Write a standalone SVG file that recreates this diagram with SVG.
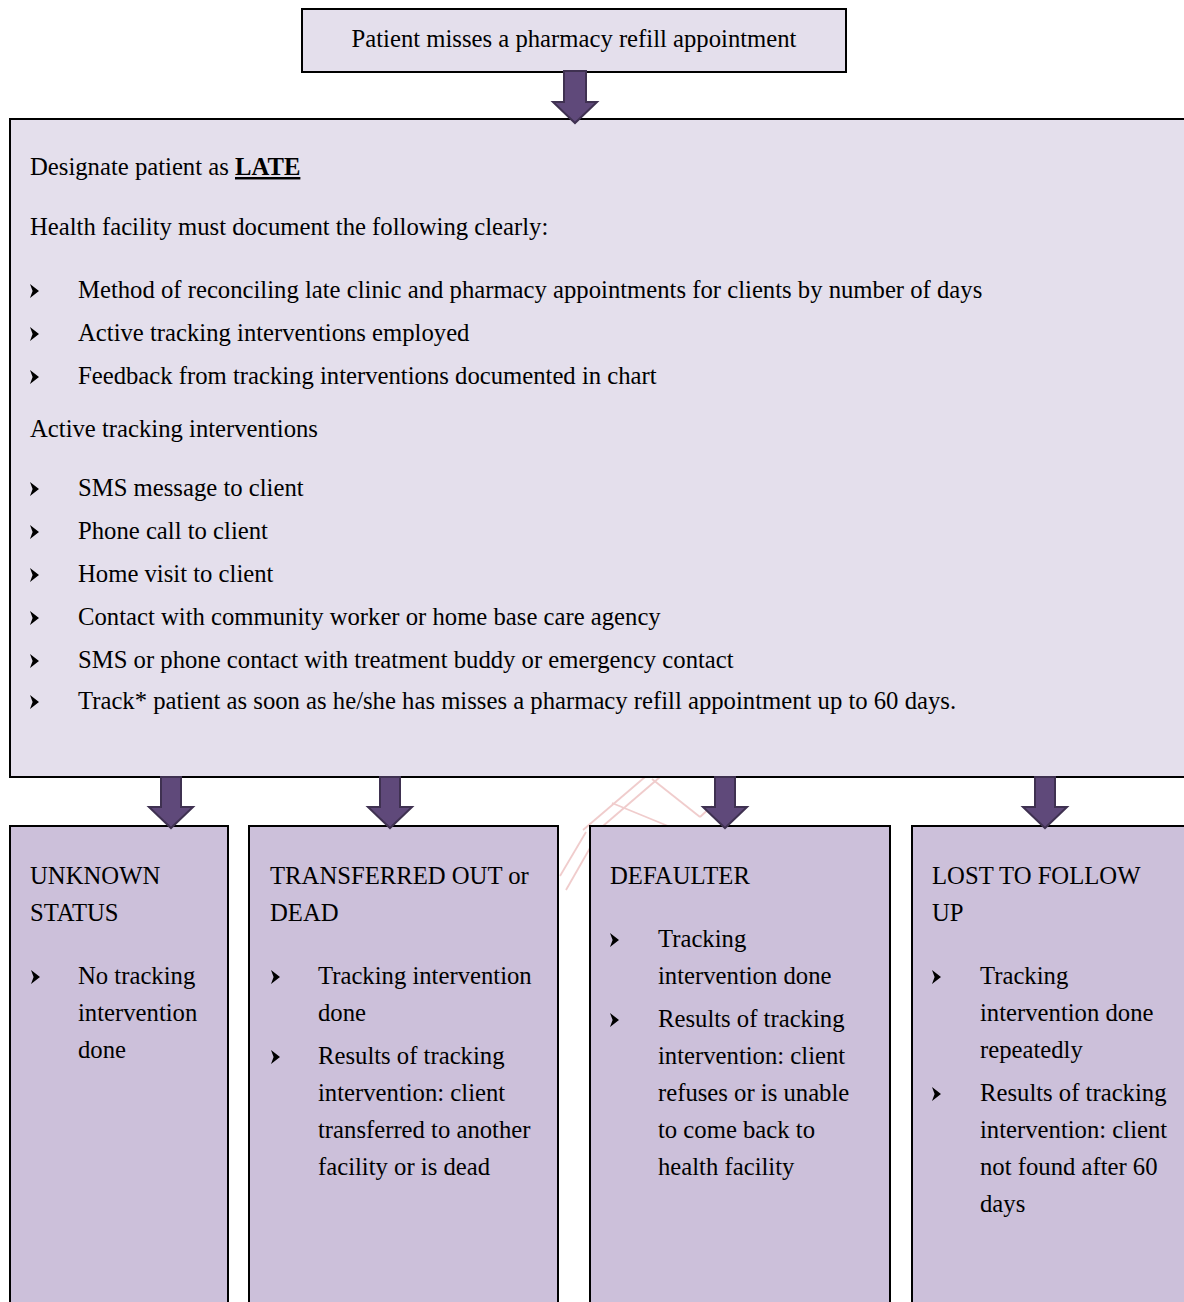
<svg xmlns="http://www.w3.org/2000/svg" xmlns:xlink="http://www.w3.org/1999/xlink" width="1184" height="1302" viewBox="0 0 1184 1302">
<style>
.t{font-family:"Liberation Serif","Times New Roman",serif;font-size:24.7px;fill:#000;}
.box{stroke:#000;stroke-width:2;}
.light{fill:#e4dfec;}
.mid{fill:#ccc0da;}
.arr{fill:#5f497a;stroke:#3f3151;stroke-width:2;stroke-linejoin:miter;}
.wm{fill:none;stroke:#f0cccc;stroke-width:1.8;}
</style>
<defs>
<path id="b" d="M0,0 L9,7 L0,14 L2.6,7 Z" fill="#000"/>
</defs>
<rect width="1184" height="1302" fill="#fff"/>
<g id="watermark">
<line class="wm" x1="645" y1="777" x2="583" y2="830"/>
<line class="wm" x1="660" y1="777" x2="596" y2="832"/>
<line class="wm" x1="586" y1="832" x2="560" y2="876"/>
<line class="wm" x1="590" y1="848" x2="566" y2="890"/>
<line class="wm" x1="612" y1="803" x2="668" y2="826"/>
<line class="wm" x1="652" y1="779" x2="700" y2="817"/>
<line class="wm" x1="700" y1="817" x2="712" y2="806"/>
</g>
<g id="start">
<rect class="box light" x="302" y="9" width="544" height="63"/>
<text class="t" x="574" y="47" text-anchor="middle">Patient misses a pharmacy refill appointment</text>
</g>
<g id="late">
<rect class="box light" x="10" y="119" width="1184" height="658"/>
<text class="t" x="30" y="175">Designate patient as <tspan font-weight="bold" text-decoration="underline">LATE</tspan></text>
<text class="t" x="30" y="235">Health facility must document the following clearly:</text>
<use xlink:href="#b" x="30" y="284"/>
<text class="t" x="78" y="298">Method of reconciling late clinic and pharmacy appointments for clients by number of days</text>
<use xlink:href="#b" x="30" y="327"/>
<text class="t" x="78" y="341">Active tracking interventions employed</text>
<use xlink:href="#b" x="30" y="370"/>
<text class="t" x="78" y="384">Feedback from tracking interventions documented in chart</text>
<text class="t" x="30" y="437">Active tracking interventions</text>
<use xlink:href="#b" x="30" y="482"/>
<text class="t" x="78" y="496">SMS message to client</text>
<use xlink:href="#b" x="30" y="525"/>
<text class="t" x="78" y="539">Phone call to client</text>
<use xlink:href="#b" x="30" y="568"/>
<text class="t" x="78" y="582">Home visit to client</text>
<use xlink:href="#b" x="30" y="611"/>
<text class="t" x="78" y="625">Contact with community worker or home base care agency</text>
<use xlink:href="#b" x="30" y="654"/>
<text class="t" x="78" y="668">SMS or phone contact with treatment buddy or emergency contact</text>
<use xlink:href="#b" x="30" y="695"/>
<text class="t" x="78" y="709">Track* patient as soon as he/she has misses a pharmacy refill appointment up to 60 days.</text>
</g>
<g id="unknown">
<rect class="box mid" x="10" y="826" width="218" height="490"/>
<text class="t" x="30" y="884">UNKNOWN</text>
<text class="t" x="30" y="921">STATUS</text>
<use xlink:href="#b" x="31" y="970"/>
<text class="t" x="78" y="984">No tracking</text>
<text class="t" x="78" y="1021">intervention</text>
<text class="t" x="78" y="1058">done</text>
</g>
<g id="transferred">
<rect class="box mid" x="249" y="826" width="309" height="490"/>
<text class="t" x="270" y="884">TRANSFERRED OUT or</text>
<text class="t" x="270" y="921">DEAD</text>
<use xlink:href="#b" x="271" y="970"/>
<text class="t" x="318" y="984">Tracking intervention</text>
<text class="t" x="318" y="1021">done</text>
<use xlink:href="#b" x="271" y="1050"/>
<text class="t" x="318" y="1064">Results of tracking</text>
<text class="t" x="318" y="1101">intervention: client</text>
<text class="t" x="318" y="1138">transferred to another</text>
<text class="t" x="318" y="1175">facility or is dead</text>
</g>
<g id="defaulter">
<rect class="box mid" x="590" y="826" width="300" height="490"/>
<text class="t" x="610" y="884">DEFAULTER</text>
<use xlink:href="#b" x="610" y="933"/>
<text class="t" x="658" y="947">Tracking</text>
<text class="t" x="658" y="984">intervention done</text>
<use xlink:href="#b" x="610" y="1013"/>
<text class="t" x="658" y="1027">Results of tracking</text>
<text class="t" x="658" y="1064">intervention: client</text>
<text class="t" x="658" y="1101">refuses or is unable</text>
<text class="t" x="658" y="1138">to come back to</text>
<text class="t" x="658" y="1175">health facility</text>
</g>
<g id="lost">
<rect class="box mid" x="912" y="826" width="290" height="490"/>
<text class="t" x="932" y="884">LOST TO FOLLOW</text>
<text class="t" x="932" y="921">UP</text>
<use xlink:href="#b" x="932" y="970"/>
<text class="t" x="980" y="984">Tracking</text>
<text class="t" x="980" y="1021">intervention done</text>
<text class="t" x="980" y="1058">repeatedly</text>
<use xlink:href="#b" x="932" y="1087"/>
<text class="t" x="980" y="1101">Results of tracking</text>
<text class="t" x="980" y="1138">intervention: client</text>
<text class="t" x="980" y="1175">not found after 60</text>
<text class="t" x="980" y="1212">days</text>
</g>
<g id="connectors">
<path class="arr" d="M564,71 H586 V102 H597 L575,123 L553,102 H564 Z"/>
<path class="arr" d="M161,777 H181 V807 H193 L171,828 L149,807 H161 Z"/>
<path class="arr" d="M380,777 H400 V807 H412 L390,828 L368,807 H380 Z"/>
<path class="arr" d="M715,777 H735 V807 H747 L725,828 L703,807 H715 Z"/>
<path class="arr" d="M1035,777 H1055 V807 H1067 L1045,828 L1023,807 H1035 Z"/>
</g>
</svg>
